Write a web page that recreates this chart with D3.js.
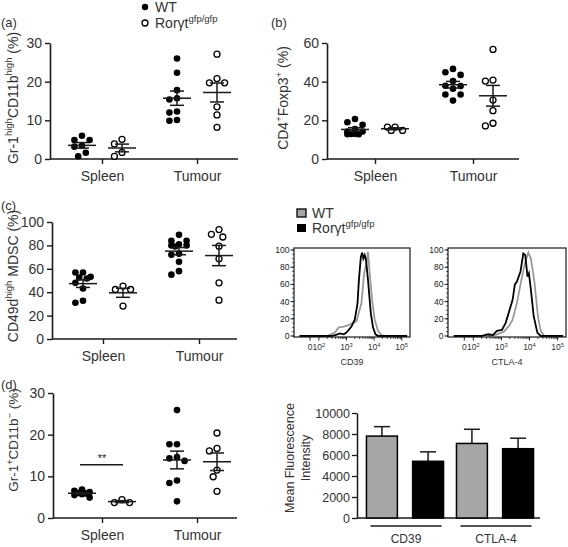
<!DOCTYPE html>
<html><head><meta charset="utf-8">
<script src="https://cdn.jsdelivr.net/npm/d3@7"></script>
<style>
body{margin:0;background:#fff}
#wrap{position:relative;width:568px;height:547px}
svg{display:block;font-family:"Liberation Sans",Arial,sans-serif}
#overlay{position:absolute;left:0;top:0;pointer-events:none}
</style>
</head><body>
<div id="wrap">
<svg id="chart" width="568" height="547"></svg>
<svg id="overlay" width="568" height="547"></svg>
</div>
<script>
// ---------------- DATA ----------------
const tissues = ["Spleen", "Tumour"];
const genotypes = ["WT", "Rorγt"];

// (a) Gr-1high CD11bhigh (%)
const aWTSpleen  = [6.0, 4.9, 4.9, 3.4, 3.2, 1.6, 0.7];
const aRorSpleen = [5.1, 3.9, 1.7, 0.7];
const aWTTumour  = [26.0, 22.3, 17.8, 15.4, 15.7, 12.3, 12.0, 9.9, 10.1];
const aRorTumour = [27.1, 20.8, 19.7, 19.7, 13.5, 11.4, 8.2];
const aTicks = [0, 10, 20, 30];

// (b) CD4+Foxp3+ (%)
const bWTSpleen  = [20.7, 19.0, 17.7, 15.5, 14.2, 14.2, 13.0, 12.9, 12.8, 12.8];
const bRorSpleen = [16.5, 16.5, 14.8, 14.8];
const bWTTumour  = [46.6, 44.9, 43.5, 40.3, 37.9, 37.7, 36.3, 33.4, 33.4, 30.2];
const bRorTumour = [56.7, 40.8, 40.3, 30.5, 25.0, 17.1, 18.5];
const bTicks = [0, 20, 40, 60];

// (c) CD49d high MDSC (%)
const cWTSpleen  = [56.8, 56.8, 53.1, 52.6, 51.7, 48.0, 43.2, 31.0, 32.7];
const cRorSpleen = [42.3, 42.3, 45.2, 28.1];
const cWTTumour  = [89, 84, 84, 81, 80, 80, 79, 73, 72, 66, 58, 55];
const cRorTumour = [93.5, 87.2, 89.5, 79.3, 68.5, 48.0, 33.2];
const cTicks = [0, 20, 40, 60, 80, 100];

// (d) Gr-1+CD11b- (%)
const dWTSpleen  = [6.8, 6.5, 6.2, 6.0, 5.9, 5.7, 5.5, 4.9];
const dRorSpleen = [4.4, 3.7, 3.7];
const dWTTumour  = [25.9, 17.7, 17.7, 14.3, 14.6, 13.7, 9.0, 8.4, 4.0];
const dRorTumour = [20.4, 16.1, 16.7, 11.5, 9.9, 6.4];
const dTicks = [0, 10, 20, 30];
const dSignif = {label: "**", value: 12.8};

// Histograms: [log10 intensity, % of max]
const cd39WT  = [[2.3,0],[2.58,4],[2.72,10],[2.9,11],[3.1,13],[3.36,17],[3.54,38],[3.64,73],[3.72,85],[3.78,98],[3.84,73],[3.93,42],[4.02,19],[4.14,6],[4.27,1],[4.39,0],[5.0,0]];
const cd39Ror = [[1.3,0],[2.46,0],[2.6,1],[2.76,3],[2.9,2],[3.0,4],[3.18,11],[3.3,19],[3.4,38],[3.45,65],[3.52,92],[3.57,97],[3.61,90],[3.66,94],[3.71,88],[3.78,65],[3.88,27],[3.96,10],[4.05,2],[4.15,0],[5.2,0]];
const ctlaWT  = [[2.5,0],[2.78,1],[3.09,5],[3.28,12],[3.4,19],[3.55,38],[3.71,65],[3.84,85],[3.96,97],[4.05,90],[4.18,62],[4.3,23],[4.4,6],[4.53,0],[5.0,0]];
const ctlaRor = [[1.3,0],[2.28,0],[2.53,2],[2.7,1],[2.84,6],[3.02,7],[3.15,15],[3.28,29],[3.4,42],[3.48,60],[3.55,63],[3.68,75],[3.78,96],[3.85,94],[3.93,69],[3.98,73],[4.05,54],[4.15,23],[4.28,4],[4.4,0],[5.2,0]];
const histTicksY = [0, 20, 40, 60, 80, 100];
const histTicksX = [{v:1.68,t:"0"},{v:2,t:"10",e:"2"},{v:3,t:"10",e:"3"},{v:4,t:"10",e:"4"},{v:5,t:"10",e:"5"}];

// Bar chart: mean fluorescence intensity
const markers = ["CD39", "CTLA-4"];
const mfiWT      = [7800, 7100];
const mfiRor     = [5400, 6600];
const mfiWTErr   = [900, 1350];
const mfiRorErr  = [900, 1000];
const mfiTicks = [0, 2000, 4000, 6000, 8000, 10000];

// ---------------- DRAW ----------------
const svg = d3.select("#chart");
const overlay = d3.select("#overlay");
const INK = "#1a1a1a";
const TXT = "#333";

function supText(sel, parts, baseSize) {
  let prevSup = false;
  parts.forEach(([t, s]) => {
    const ts = sel.append("tspan").text(t);
    if (s) ts.attr("font-size", baseSize * 0.68).attr("dy", prevSup ? 0 : -baseSize * 0.4);
    else ts.attr("dy", prevSup ? baseSize * 0.4 : 0);
    prevSup = s;
  });
}

function swarm(values, y, spacing, maxW) {
  const order = values.map((v, i) => i).sort((i, j) => values[j] - values[i]);
  const placed = [];
  const offs = new Array(values.length);
  const cands = [0];
  for (let k = 1; k * spacing / 2 <= maxW + 0.01; k++) { cands.push(-k * spacing / 2, k * spacing / 2); }
  order.forEach(i => {
    const py = y(values[i]);
    let best = null, bestD = -1;
    for (const c of cands) {
      const dmin = placed.length ? d3.min(placed, p => Math.hypot(p.o - c, p.y - py)) : Infinity;
      if (dmin >= spacing * 0.99) { best = c; bestD = Infinity; break; }
      if (dmin > bestD) { bestD = dmin; best = c; }
    }
    offs[i] = best; placed.push({o: best, y: py});
  });
  return offs;
}

function scatterPanel(cfg) {
  const g = svg.append("g");
  const y = d3.scaleLinear().domain([0, d3.max(cfg.ticks)]).range([cfg.bottom, cfg.top]);
  const x = d3.scalePoint().domain(tissues).range(cfg.cats);
  const sub = d3.scalePoint().domain(genotypes).range([-20, 20]);

  const ya = g.append("g").attr("transform", `translate(${cfg.left},0)`)
    .call(d3.axisLeft(y).tickValues(cfg.ticks).tickSize(5).tickSizeOuter(0).tickPadding(3));
  ya.select(".domain").attr("stroke", INK).attr("stroke-width", 1.6);
  ya.selectAll(".tick line").attr("stroke", INK).attr("stroke-width", 1.4);
  ya.selectAll("text").attr("font-size", 14).attr("fill", TXT).attr("font-family", "Liberation Sans, Arial, sans-serif");

  const xa = g.append("g").attr("transform", `translate(0,${cfg.bottom})`)
    .call(d3.axisBottom(x).tickSize(5).tickSizeOuter(0).tickPadding(7));
  xa.select(".domain").remove();
  xa.selectAll(".tick line").attr("stroke", INK).attr("stroke-width", 1.4);
  xa.selectAll("text").attr("font-size", 14).attr("fill", TXT).attr("font-family", "Liberation Sans, Arial, sans-serif");
  g.append("line").attr("x1", cfg.left).attr("x2", cfg.right).attr("y1", cfg.bottom).attr("y2", cfg.bottom)
    .attr("stroke", INK).attr("stroke-width", 1.6);

  cfg.groups.forEach(gr => {
    const cx = x(gr.tissue) + sub(gr.geno);
    const offs = swarm(gr.values, y, 7.6, 8);
    const m = d3.mean(gr.values);
    const sem = d3.deviation(gr.values) / Math.sqrt(gr.values.length);
    g.selectAll(null).data(gr.values).join("circle")
      .attr("cx", (d, i) => cx + offs[i]).attr("cy", d => y(d)).attr("r", gr.geno === "WT" ? 3.3 : 3.0)
      .attr("fill", gr.geno === "WT" ? "#000" : "#fff")
      .attr("stroke", "#000").attr("stroke-width", gr.geno === "WT" ? 0 : 1.3);
    g.append("line").attr("x1", cx - 14).attr("x2", cx + 14).attr("y1", y(m)).attr("y2", y(m))
      .attr("stroke", INK).attr("stroke-width", 1.5);
    g.append("line").attr("x1", cx).attr("x2", cx).attr("y1", y(m - sem)).attr("y2", y(m + sem))
      .attr("stroke", INK).attr("stroke-width", 1.5);
    [m - sem, m + sem].forEach(v => g.append("line").attr("x1", cx - 7).attr("x2", cx + 7)
      .attr("y1", y(v)).attr("y2", y(v)).attr("stroke", INK).attr("stroke-width", 1.5));
  });

  const yl = g.append("text").attr("transform", `translate(${cfg.ylabX},${cfg.ylabY}) rotate(-90)`)
    .attr("text-anchor", "middle").attr("font-size", cfg.ylabSize || 14).attr("fill", TXT);
  supText(yl, cfg.ylabel, cfg.ylabSize || 14);

  g.append("text").attr("x", cfg.tagX).attr("y", cfg.tagY).attr("font-size", 13).attr("fill", TXT).text(cfg.tag);
  return {g, x, y};
}

function grp(tissue, geno, values) { return {tissue, geno, values}; }

scatterPanel({left: 50, right: 238, top: 43, bottom: 159, ticks: aTicks, cats: [102, 197],
  groups: [grp("Spleen","WT",aWTSpleen), grp("Spleen","Rorγt",aRorSpleen), grp("Tumour","WT",aWTTumour), grp("Tumour","Rorγt",aRorTumour)],
  ylabel: [["Gr-1",false],["high",true],["CD11b",false],["high",true],[" (%)",false]], ylabX: 18, ylabY: 98,
  tag: "(a)", tagX: 1, tagY: 27});

scatterPanel({left: 327, right: 519, top: 43, bottom: 159, ticks: bTicks, cats: [375, 473],
  groups: [grp("Spleen","WT",bWTSpleen), grp("Spleen","Rorγt",bRorSpleen), grp("Tumour","WT",bWTTumour), grp("Tumour","Rorγt",bRorTumour)],
  ylabel: [["CD4",false],["+",true],["Foxp3",false],["+",true],[" (%)",false]], ylabX: 288, ylabY: 98,
  tag: "(b)", tagX: 271, tagY: 27});

scatterPanel({left: 52, right: 237, top: 222, bottom: 339, ticks: cTicks, cats: [103, 199],
  groups: [grp("Spleen","WT",cWTSpleen), grp("Spleen","Rorγt",cRorSpleen), grp("Tumour","WT",cWTTumour), grp("Tumour","Rorγt",cRorTumour)],
  ylabel: [["CD49d",false],["high",true],[" MDSC (%)",false]], ylabX: 18, ylabY: 276,
  tag: "(c)", tagX: 1, tagY: 210});

const pd = scatterPanel({left: 53, right: 237, top: 393, bottom: 518, ticks: dTicks, cats: [102, 197],
  groups: [grp("Spleen","WT",dWTSpleen), grp("Spleen","Rorγt",dRorSpleen), grp("Tumour","WT",dWTTumour), grp("Tumour","Rorγt",dRorTumour)],
  ylabel: [["Gr-1",false],["+",true],["CD11b",false],["−",true],[" (%)",false]], ylabX: 18, ylabY: 440, ylabSize: 13.5,
  tag: "(d)", tagX: 1, tagY: 389});
{
  const xs = pd.x("Spleen");
  pd.g.append("line").attr("x1", xs - 22).attr("x2", xs + 21).attr("y1", pd.y(dSignif.value)).attr("y2", pd.y(dSignif.value))
    .attr("stroke", INK).attr("stroke-width", 1.5);
  pd.g.append("text").attr("x", xs).attr("y", pd.y(dSignif.value) - 3).attr("text-anchor", "middle")
    .attr("font-size", 11).attr("fill", "#222").text(dSignif.label);
}

// top legend (dots)
{
  const lg = svg.append("g");
  lg.append("circle").attr("cx", 145).attr("cy", 7).attr("r", 3.2).attr("fill", "#000");
  lg.append("text").attr("x", 155).attr("y", 12).attr("font-size", 14).attr("fill", TXT).text("WT");
  lg.append("circle").attr("cx", 145).attr("cy", 23).attr("r", 3).attr("fill", "#fff").attr("stroke", "#000").attr("stroke-width", 1.3);
  const t = lg.append("text").attr("x", 155).attr("y", 28).attr("font-size", 14).attr("fill", TXT);
  supText(t, [["Rorγt",false],["gfp/gfp",true]], 14);
}

// bar legend
{
  const lg = svg.append("g");
  lg.append("rect").attr("x", 297).attr("y", 209).attr("width", 9).attr("height", 8).attr("fill", "#a6a6a6").attr("stroke", "#000").attr("stroke-width", 1.3);
  lg.append("text").attr("x", 312).attr("y", 218).attr("font-size", 14).attr("fill", TXT).text("WT");
  lg.append("rect").attr("x", 297).attr("y", 224).attr("width", 9).attr("height", 8).attr("fill", "#000");
  const t = lg.append("text").attr("x", 312).attr("y", 233).attr("font-size", 14).attr("fill", TXT);
  supText(t, [["Rorγt",false],["gfp/gfp",true]], 14);
}

// histograms
function histPanel(id, left, right, top, bottom, wt, ror, label) {
  const g = svg.append("g");
  const x = d3.scaleLinear().domain([1.1, 5.3]).range([left, right]);
  const y = d3.scaleLinear().domain([0, 100]).range([bottom - 1, top + 2]);
  g.selectAll(null).data(d3.range(0, 101, 5)).join("line")
    .attr("x1", left - 1.8).attr("x2", left).attr("y1", d => y(d)).attr("y2", d => y(d)).attr("stroke", INK).attr("stroke-width", 0.8);
  g.selectAll(null).data(histTicksY).join("line")
    .attr("x1", left - 3.5).attr("x2", left).attr("y1", d => y(d)).attr("y2", d => y(d)).attr("stroke", INK).attr("stroke-width", 1);
  // y tick labels on the overlay layer
  overlay.append("g").selectAll(null).data(histTicksY).join("text")
    .attr("x", left - 4.5).attr("y", d => y(d) + 3).attr("text-anchor", "end")
    .attr("font-size", 8.5).attr("fill", "#222").text(d => d);
  const minor = [];
  [2, 3, 4].forEach(dec => { for (let m = 2; m <= 9; m++) minor.push(dec + Math.log10(m)); });
  g.selectAll(null).data(minor).join("line")
    .attr("x1", d => x(d)).attr("x2", d => x(d)).attr("y1", bottom).attr("y2", bottom + 2).attr("stroke", INK).attr("stroke-width", 0.8);
  g.selectAll(null).data(histTicksX).join("line")
    .attr("x1", d => x(d.v)).attr("x2", d => x(d.v)).attr("y1", bottom).attr("y2", bottom + 3.5).attr("stroke", INK).attr("stroke-width", 1);
  histTicksX.forEach(d => {
    const t = g.append("text").attr("x", x(d.v)).attr("y", bottom + 13).attr("text-anchor", "middle")
      .attr("font-size", 8.5).attr("fill", TXT);
    if (d.e) supText(t, [[d.t,false],[d.e,true]], 8.5); else t.text(d.t);
  });
  g.append("text").attr("x", (left + right) / 2).attr("y", bottom + 28).attr("text-anchor", "middle")
    .attr("font-size", 9).attr("fill", TXT).text(label);
  const line = d3.line().x(d => x(d[0])).y(d => y(d[1])).curve(d3.curveLinear);
  g.append("clipPath").attr("id", id).append("rect")
    .attr("x", left).attr("y", top).attr("width", right - left).attr("height", bottom - top);
  g.append("path").datum(wt).attr("d", line).attr("fill", "none").attr("stroke", "#9a9a9a").attr("stroke-width", 1.8)
    .attr("clip-path", `url(#${id})`);
  g.append("path").datum(ror).attr("d", line).attr("fill", "none").attr("stroke", "#000").attr("stroke-width", 1.8)
    .attr("clip-path", `url(#${id})`);
  g.append("rect").attr("x", left).attr("y", top).attr("width", right - left).attr("height", bottom - top)
    .attr("fill", "none").attr("stroke", INK).attr("stroke-width", 1.2);
}
histPanel("clipA", 294, 410, 248, 337, cd39WT, cd39Ror, "CD39");
histPanel("clipB", 448, 566, 248, 337, ctlaWT, ctlaRor, "CTLA-4");

// bar chart
{
  const g = svg.append("g");
  const left = 357, right = 540, top = 413, bottom = 518;
  const y = d3.scaleLinear().domain([0, 10000]).range([bottom, top]);
  const x = d3.scaleBand().domain(markers).range([360, 540]);
  const sub = d3.scaleBand().domain(genotypes).range([0, x.bandwidth()]).paddingInner(0.33).paddingOuter(0.14);
  const ya = g.append("g").attr("transform", `translate(${left},0)`)
    .call(d3.axisLeft(y).tickValues(mfiTicks).tickFormat(d3.format("d")).tickSize(5).tickSizeOuter(0).tickPadding(2));
  ya.select(".domain").attr("stroke", INK).attr("stroke-width", 1.5);
  ya.selectAll(".tick line").attr("stroke", INK).attr("stroke-width", 1.3);
  ya.selectAll("text").attr("font-size", 12.5).attr("fill", TXT).attr("font-family", "Liberation Sans, Arial, sans-serif");
  g.append("line").attr("x1", left).attr("x2", right).attr("y1", bottom).attr("y2", bottom).attr("stroke", INK).attr("stroke-width", 1.5);

  const rows = [];
  markers.forEach((m, i) => {
    rows.push({m, geno: "WT", v: mfiWT[i], e: mfiWTErr[i]});
    rows.push({m, geno: "Rorγt", v: mfiRor[i], e: mfiRorErr[i]});
  });
  rows.forEach(r => {
    const bx = x(r.m) + sub(r.geno), bw = sub.bandwidth(), cx = bx + bw / 2;
    g.append("line").attr("x1", cx).attr("x2", cx).attr("y1", y(r.v)).attr("y2", y(r.v + r.e)).attr("stroke", INK).attr("stroke-width", 1.5);
    g.append("line").attr("x1", cx - 8).attr("x2", cx + 8).attr("y1", y(r.v + r.e)).attr("y2", y(r.v + r.e)).attr("stroke", INK).attr("stroke-width", 1.5);
    g.append("rect").attr("x", bx).attr("y", y(r.v)).attr("width", bw).attr("height", y(0) - y(r.v))
      .attr("fill", r.geno === "WT" ? "#a6a6a6" : "#000").attr("stroke", "#000").attr("stroke-width", 1.5);
  });
  markers.forEach(m => {
    const x1 = x(m) + sub("WT") + 4, x2 = x(m) + sub("Rorγt") + sub.bandwidth() - 2;
    g.append("line").attr("x1", x1).attr("x2", x2).attr("y1", 526).attr("y2", 526).attr("stroke", INK).attr("stroke-width", 1.5);
    g.append("text").attr("x", (x1 + x2) / 2).attr("y", 543).attr("text-anchor", "middle").attr("font-size", 12).attr("fill", TXT).text(m);
  });
  const yl = g.append("text").attr("transform", "translate(294,458) rotate(-90)").attr("text-anchor", "middle")
    .attr("font-size", 12.5).attr("fill", TXT);
  yl.append("tspan").attr("x", 0).attr("dy", 0).text("Mean Fluorescence");
  yl.append("tspan").attr("x", 0).attr("dy", 16).text("Intensity");
}
</script>
</body></html>
